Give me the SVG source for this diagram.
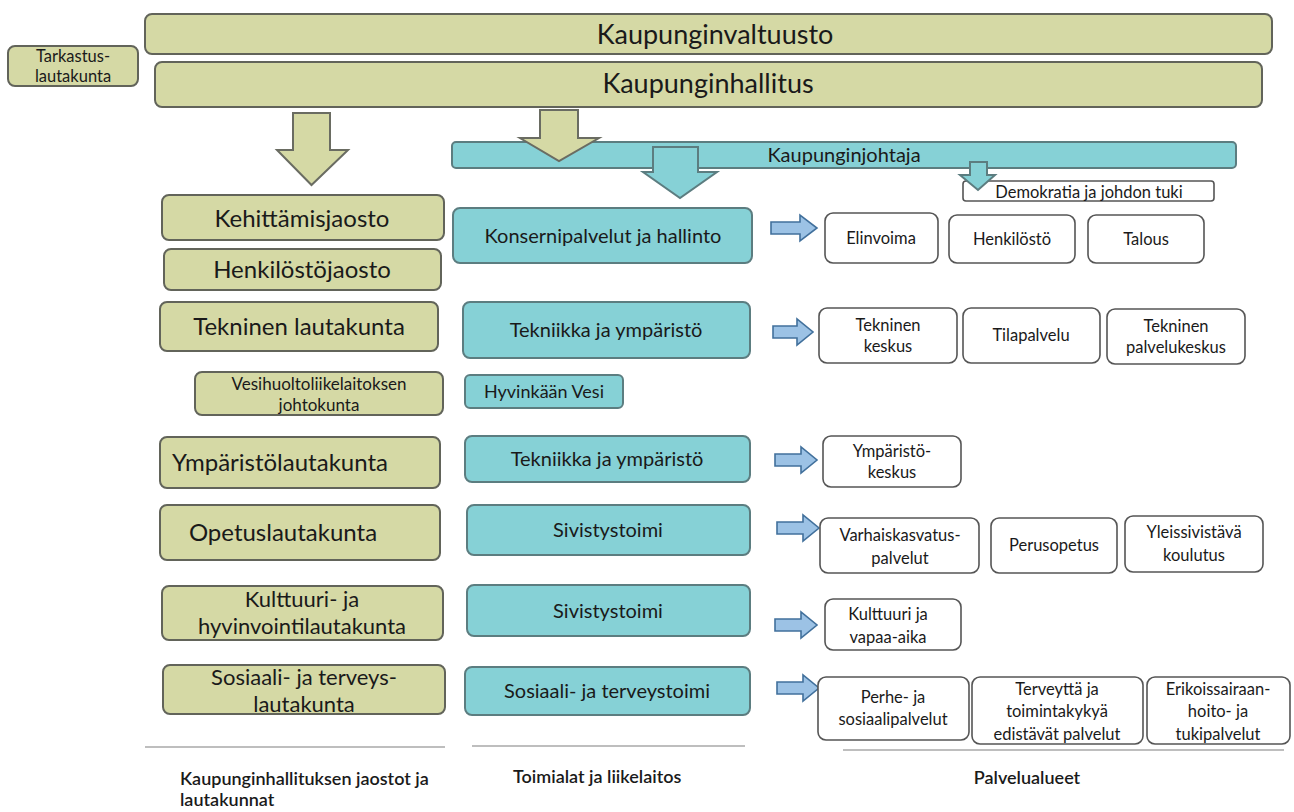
<svg xmlns="http://www.w3.org/2000/svg" width="1294" height="812" viewBox="0 0 1294 812">
<defs>
<style>
text{font-family:Lato,"Open Sans","Liberation Sans",sans-serif;fill:#1a1a1a;text-anchor:middle}
.g{fill:#d5d9a5;stroke:#62645a;stroke-width:2}
.t{fill:#86d1d6;stroke:#5c7d80;stroke-width:2}
.w{fill:#fff;stroke:#555;stroke-width:1.6}
.ga{fill:#d5d9a5;stroke:#6a6c62;stroke-width:2;stroke-linejoin:miter}
.ta{fill:#86d1d6;stroke:#5c7d80;stroke-width:2}
.ba{fill:#9cc2e5;stroke:#41709c;stroke-width:1.6}
.ln{stroke:#a8a8a8;stroke-width:1.6}
.f27{font-size:27px}.f24{font-size:24px}.f22{font-size:22px}.f20{font-size:20px}.f17{font-size:17px}.f16{font-size:16.5px}.f18{font-size:18px}.fb{font-size:18px;font-weight:600}
</style>
</defs>
<rect width="1294" height="812" fill="#fff"/>

<g id="tarkastus"><rect class="g" x="8" y="46" width="130" height="40" rx="7"/><text class="f16" x="73" y="62">Tarkastus-</text><text class="f16" x="73" y="82">lautakunta</text></g>
<g id="valtuusto"><rect class="g" x="145" y="14" width="1127" height="40" rx="7"/><text class="f27" x="715" y="44">Kaupunginvaltuusto</text></g>
<g id="hallitus"><rect class="g" x="155" y="62" width="1107" height="45" rx="7"/><text class="f27" x="708" y="93">Kaupunginhallitus</text></g>

<g id="johtaja"><rect class="t" x="452" y="142" width="784" height="26" rx="4"/><text class="f20" x="844" y="162">Kaupunginjohtaja</text></g>
<g id="demokratia"><rect class="w" x="963" y="181" width="251" height="20" rx="3"/><text class="f16" x="1089" y="198">Demokratia ja johdon tuki</text></g>

<g id="connectors">
<polygon class="ga" points="293,113 330,113 330,150 348,150 311.5,185 277,150 293,150"/>
<polygon class="ga" points="540,110 578,110 578,138 599,138 559,161 520,138 540,138"/>
<polygon class="ta" points="653,147 698,147 698,172 717,172 680,198 643,172 653,172"/>
<polygon class="ta" points="970,162 987,162 987,175 995,175 978,190 960,175 970,175"/>
<polygon class="ba" points="771,222 800,222 800,215 817,228 800,241 800,234 771,234"/>
<polygon class="ba" points="773,326 797,326 797,319 813,332 797,345 797,338 773,338"/>
<polygon class="ba" points="775,454 801,454 801,447 817,460 801,473 801,466 775,466"/>
<polygon class="ba" points="777,522 803,522 803,515 819,528 803,541 803,534 777,534"/>
<polygon class="ba" points="775,619 801,619 801,612 817,625 801,638 801,631 775,631"/>
<polygon class="ba" points="777,682 803,682 803,675 819,688 803,701 803,694 777,694"/>
</g>

<g id="kehittamisjaosto"><rect class="g" x="162" y="195" width="282" height="45" rx="7"/><text class="f24" x="302" y="227">Kehittämisjaosto</text></g>
<g id="henkilostojaosto"><rect class="g" x="164" y="249" width="277" height="41" rx="7"/><text class="f24" x="302" y="278">Henkilöstöjaosto</text></g>
<g id="tekninen-lautakunta"><rect class="g" x="160" y="302" width="278" height="49" rx="7"/><text class="f24" x="299" y="335">Tekninen lautakunta</text></g>
<g id="vesihuolto"><rect class="g" x="195" y="372" width="248" height="43" rx="7"/><text class="f17" x="319" y="390">Vesihuoltoliikelaitoksen</text><text class="f17" x="319" y="411">johtokunta</text></g>
<g id="ymparistolautakunta"><rect class="g" x="160" y="437" width="280" height="51" rx="7"/><text class="f24" x="280" y="471">Ympäristölautakunta</text></g>
<g id="opetuslautakunta"><rect class="g" x="160" y="505" width="280" height="55" rx="7"/><text class="f24" x="283" y="541">Opetuslautakunta</text></g>
<g id="kulttuurilautakunta"><rect class="g" x="162" y="586" width="281" height="54" rx="7"/><text class="f22" x="302" y="607">Kulttuuri- ja</text><text class="f22" x="302" y="634">hyvinvointilautakunta</text></g>
<g id="sosiaalilautakunta"><rect class="g" x="163" y="665" width="282" height="49" rx="7"/><text class="f22" x="304" y="685">Sosiaali- ja terveys-</text><text class="f22" x="304" y="712">lautakunta</text></g>

<g id="konsernipalvelut"><rect class="t" x="453" y="208" width="299" height="55" rx="7"/><text class="f20" x="603" y="243">Konsernipalvelut ja hallinto</text></g>
<g id="tekniikka1"><rect class="t" x="463" y="302" width="287" height="56" rx="7"/><text class="f20" x="606" y="337">Tekniikka ja ympäristö</text></g>
<g id="hyvinkaan-vesi"><rect class="t" x="465" y="375" width="158" height="33" rx="5"/><text class="f18" x="544" y="398">Hyvinkään Vesi</text></g>
<g id="tekniikka2"><rect class="t" x="465" y="436" width="285" height="46" rx="7"/><text class="f20" x="607" y="466">Tekniikka ja ympäristö</text></g>
<g id="sivistystoimi1"><rect class="t" x="467" y="505" width="283" height="50" rx="7"/><text class="f20" x="608" y="537">Sivistystoimi</text></g>
<g id="sivistystoimi2"><rect class="t" x="467" y="585" width="283" height="51" rx="7"/><text class="f20" x="608" y="618">Sivistystoimi</text></g>
<g id="sosiaalitoimi"><rect class="t" x="465" y="667" width="285" height="48" rx="7"/><text class="f20" x="607" y="698">Sosiaali- ja terveystoimi</text></g>

<g id="elinvoima"><rect class="w" x="825" y="213" width="113" height="50" rx="8"/><text class="f16" x="881" y="244">Elinvoima</text></g>
<g id="henkilosto"><rect class="w" x="949" y="215" width="126" height="48" rx="8"/><text class="f16" x="1012" y="245">Henkilöstö</text></g>
<g id="talous"><rect class="w" x="1088" y="215" width="116" height="48" rx="8"/><text class="f16" x="1146" y="245">Talous</text></g>
<g id="tekninen-keskus"><rect class="w" x="819" y="308" width="138" height="55" rx="8"/><text class="f16" x="888" y="331">Tekninen</text><text class="f16" x="888" y="352">keskus</text></g>
<g id="tilapalvelu"><rect class="w" x="963" y="308" width="137" height="55" rx="8"/><text class="f16" x="1031" y="341">Tilapalvelu</text></g>
<g id="tekninen-palvelukeskus"><rect class="w" x="1107" y="309" width="138" height="55" rx="8"/><text class="f16" x="1176" y="332">Tekninen</text><text class="f16" x="1176" y="353">palvelukeskus</text></g>
<g id="ymparistokeskus"><rect class="w" x="823" y="436" width="138" height="51" rx="8"/><text class="f16" x="892" y="457">Ympäristö-</text><text class="f16" x="892" y="478">keskus</text></g>
<g id="varhaiskasvatus"><rect class="w" x="820" y="518" width="159" height="55" rx="8"/><text class="f16" x="900" y="541">Varhaiskasvatus-</text><text class="f16" x="900" y="564">palvelut</text></g>
<g id="perusopetus"><rect class="w" x="991" y="518" width="126" height="55" rx="8"/><text class="f16" x="1054" y="551">Perusopetus</text></g>
<g id="yleissivistava"><rect class="w" x="1125" y="516" width="138" height="56" rx="8"/><text class="f16" x="1194" y="538">Yleissivistävä</text><text class="f16" x="1194" y="561">koulutus</text></g>
<g id="kulttuuri-vapaa-aika"><rect class="w" x="825" y="599" width="136" height="51" rx="8"/><text class="f16" x="888" y="620">Kulttuuri ja</text><text class="f16" x="888" y="643">vapaa-aika</text></g>
<g id="perhe"><rect class="w" x="818" y="677" width="151" height="63" rx="8"/><text class="f16" x="893" y="703">Perhe- ja</text><text class="f16" x="893" y="725">sosiaalipalvelut</text></g>
<g id="terveytta"><rect class="w" x="972" y="677" width="171" height="67" rx="8"/><text class="f16" x="1057" y="695">Terveyttä ja</text><text class="f16" x="1057" y="717">toimintakykyä</text><text class="f16" x="1057" y="740">edistävät palvelut</text></g>
<g id="erikoissairaanhoito"><rect class="w" x="1147" y="677" width="143" height="67" rx="8"/><text class="f16" x="1218" y="695">Erikoissairaan-</text><text class="f16" x="1218" y="717">hoito- ja</text><text class="f16" x="1218" y="740">tukipalvelut</text></g>

<g id="footer">
<line class="ln" x1="145" y1="747" x2="445" y2="747"/>
<line class="ln" x1="472" y1="746" x2="745" y2="746"/>
<line class="ln" x1="843" y1="750" x2="1284" y2="750"/>
<text class="fb" x="180" y="785" style="text-anchor:start">Kaupunginhallituksen jaostot ja</text>
<text class="fb" x="180" y="806" style="text-anchor:start">lautakunnat</text>
<text class="fb" x="513" y="783" style="text-anchor:start">Toimialat ja liikelaitos</text>
<text class="fb" x="1027" y="784">Palvelualueet</text>
</g>
</svg>
